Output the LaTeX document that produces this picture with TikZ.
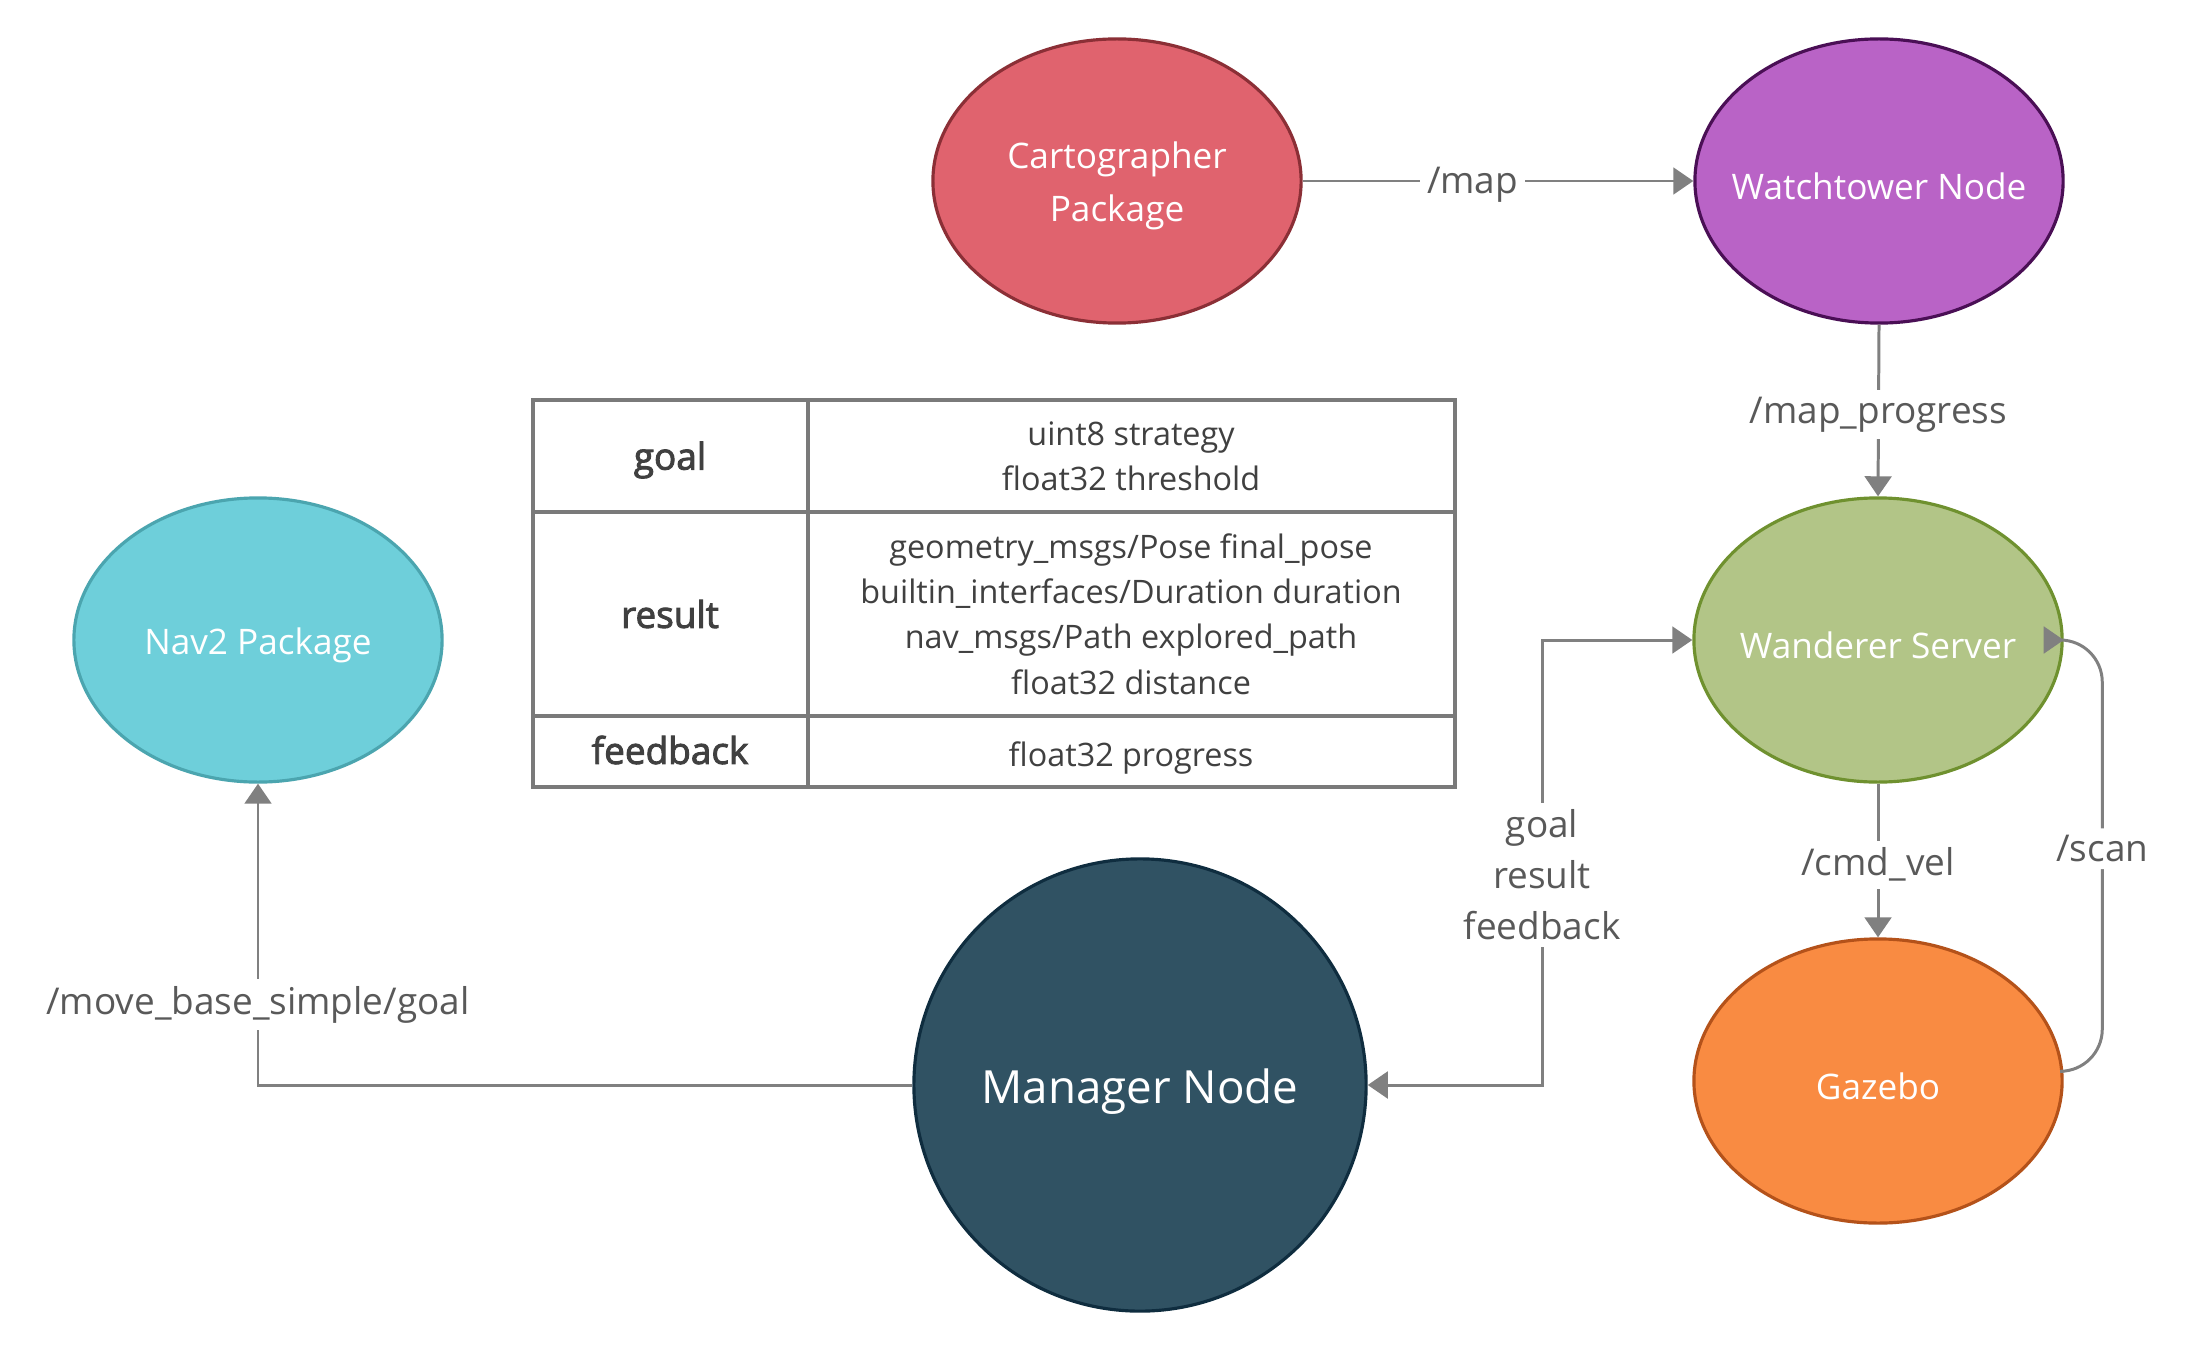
\documentclass[tikz,border=0pt]{standalone}
\usepackage{fontspec}
\setmainfont{Open Sans}
\newfontfamily\headfont{Open Sans}[FakeBold=2.5]
\usetikzlibrary{shapes,arrows.meta}
\definecolor{linegray}{HTML}{808080}
\definecolor{labelgray}{HTML}{595959}
\definecolor{cellgray}{HTML}{404040}
\definecolor{gridgray}{HTML}{7A7A7A}
\definecolor{cartofill}{HTML}{E0636E}
\definecolor{cartoline}{HTML}{8B2F36}
\definecolor{watchfill}{HTML}{B963C6}
\definecolor{watchline}{HTML}{4A0F55}
\definecolor{wanderfill}{HTML}{B2C587}
\definecolor{wanderline}{HTML}{6F912F}
\definecolor{gazebofill}{HTML}{F98B42}
\definecolor{gazeboline}{HTML}{B4521A}
\definecolor{navfill}{HTML}{6ECFDA}
\definecolor{navline}{HTML}{4BA5AF}
\definecolor{managerfill}{HTML}{305263}
\definecolor{managerline}{HTML}{0F2D3F}
\tikzstyle{topic} = [draw, ellipse, line width=0.9pt, minimum width=3.68cm, minimum height=2.84cm, inner sep=0pt]
\tikzstyle{topictext} = [text=white, align=center, yshift=-1.4pt, font=\fontsize{10}{15}\selectfont]
\tikzstyle{link} = [draw=linegray, line width=0.85pt, -{Triangle[length=5.7pt,width=7.6pt]}]
\tikzstyle{tag} = [fill=white, text=labelgray, inner sep=2pt, yshift=-1.2pt, align=center, font=\fontsize{10.5}{14.5}\selectfont]
\tikzstyle{grid} = [draw=gridgray, line width=1pt]
\tikzstyle{cell} = [text=cellgray, align=center, font=\fontsize{9.2}{12.9}\selectfont]
\tikzstyle{head} = [text=cellgray, font=\fontsize{10.5}{13}\headfont]
\begin{document}
\begin{tikzpicture}[x=0.01cm,y=-0.01cm]
\useasboundingbox (0,0) rectangle (2189,1352);
% nodes
\node[topic, fill=cartofill, draw=cartoline, label={[topictext]center:Cartographer\\Package}] (carto) at (1117,181) {};
\node[topic, fill=watchfill, draw=watchline, label={[topictext]center:Watchtower Node}] (watch) at (1879,181) {};
\node[topic, fill=wanderfill, draw=wanderline, label={[topictext]center:Wanderer Server}] (wander) at (1878,640) {};
\node[topic, fill=gazebofill, draw=gazeboline, label={[topictext]center:Gazebo}] (gazebo) at (1878,1081) {};
\node[topic, fill=navfill, draw=navline, label={[topictext]center:Nav2 Package}] (nav) at (258,640) {};
\node[draw, circle, line width=0.9pt, minimum size=4.52cm, inner sep=0pt, fill=managerfill, draw=managerline, label={[topictext, yshift=-0.4pt, font=\fontsize{13}{16}\selectfont]center:Manager Node}] (manager) at (1140,1085) {};
% action table
\draw[grid] (533,400) rectangle (1455,787);
\draw[grid] (808,400) -- (808,787);
\draw[grid] (533,512) -- (1455,512) (533,716) -- (1455,716);
\node[head] (goalhead) at (670,460) {goal};
\node[cell] (goalbody) at (1131,456) {uint8 strategy\\float32 threshold};
\node[head] (resulthead) at (670,614) {result};
\node[cell] (resultbody) at (1131,614) {geometry\_msgs/Pose final\_pose\\builtin\_interfaces/Duration duration\\nav\_msgs/Path explored\_path\\float32 distance};
\node[head] (feedbackhead) at (670,750) {feedback};
\node[cell] (feedbackbody) at (1131,758) {float32 progress};
% topics
\coordinate (actbend) at (1542,1085);
\draw[link] (carto.east) -- node[tag, pos=0.435] {/map} (watch.west);
\draw[link] (watch.south) -- node[tag] {/map\_progress} (wander.north);
\draw[link] (wander.south) -- node[tag] {/cmd\_vel} (gazebo.north);
\draw[link, rounded corners=12] (gazebo.3) -- ++(39,0) |- node[tag, pos=0.263] {/scan} (wander.east);
\draw[link, {Triangle[length=5.7pt,width=7.6pt]}-{Triangle[length=5.7pt,width=7.6pt]}] (wander.west) -| node[tag, pos=0.759] {goal\\result\\feedback} (actbend) -- (manager.east);
\draw[link] (manager.west) -| node[tag, pos=0.64] {/move\_base\_simple/goal} (nav.south);
\end{tikzpicture}
\end{document}
